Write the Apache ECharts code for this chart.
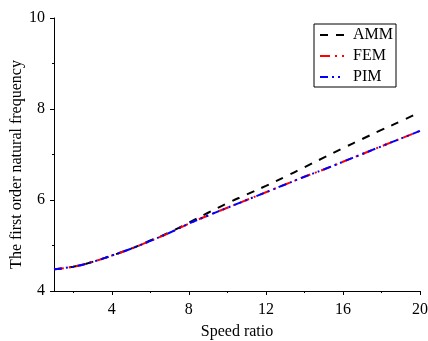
<!DOCTYPE html>
<html>
<head>
<meta charset="utf-8">
<script src="https://cdn.jsdelivr.net/npm/echarts@6/dist/echarts.min.js"></script>
<style>html,body{margin:0;padding:0;background:#fff}#c{width:428px;height:341px}</style>
</head>
<body>
<div id="c"></div>
<script>
var speedRatio = [1,2,3,4,5,6,7,8,9,10,11,12,13,14,15,16,17,18,19,20];
var amm = [4.48,4.535,4.64,4.78,4.93,5.11,5.29,5.50,5.72,5.93,6.12,6.31,6.51,6.72,6.93,7.14,7.34,7.54,7.73,7.93];
var fem = [4.48,4.535,4.64,4.78,4.93,5.10,5.28,5.48,5.66,5.83,6.00,6.17,6.34,6.51,6.67,6.84,7.01,7.18,7.35,7.52];
var pim = [4.48,4.535,4.64,4.78,4.93,5.10,5.28,5.48,5.66,5.83,6.00,6.17,6.34,6.51,6.67,6.84,7.01,7.18,7.35,7.52];
var xMajorTicks = [4,8,12,16,20];
var xMinorTicks = [2,6,10,14,18];

function pairs(xs, ys){ return xs.map(function(x,i){return [x, ys[i]];}); }
var FONT = '"Liberation Serif","Times New Roman",serif';
var FS = 16;
var chart = echarts.init(document.getElementById('c'));
chart.setOption({
  animation: false,
  textStyle: {fontFamily: FONT, color: '#000'},
  grid: {left: 54, right: 8, top: 18, bottom: 50, containLabel: false, outerBoundsMode: 'none'},
  legend: {
    orient: 'vertical', left: 314, top: 24,
    padding: [3, 3, 2, 5], itemGap: 5, itemWidth: 24, itemHeight: 15,
    borderColor: '#000', borderWidth: 1,
    itemStyle: {opacity: 0},
    textStyle: {fontFamily: FONT, fontSize: FS, color: '#000', padding: [0,0,0,4]},
    data: ['AMM','FEM','PIM']
  },
  xAxis: [{
    type: 'value', min: 1, max: 20,
    name: 'Speed ratio', nameLocation: 'middle', nameGap: 33, nameMoveOverlap: false,
    nameTextStyle: {fontFamily: FONT, fontSize: FS, color: '#000'},
    axisLine: {lineStyle: {color: '#000', width: 1}},
    axisTick: {show: true, customValues: xMajorTicks, length: 4, lineStyle: {color: '#000'}},
    axisLabel: {customValues: xMajorTicks, fontFamily: FONT, fontSize: FS, color: '#000', margin: 11},
    splitLine: {show: false}
  },{
    type: 'value', min: 1, max: 20, position: 'bottom',
    axisLine: {show: false},
    axisTick: {show: true, customValues: xMinorTicks, length: 2, lineStyle: {color: '#000'}},
    axisLabel: {show: false},
    splitLine: {show: false}
  }],
  yAxis: {
    type: 'value', min: 4, max: 10, interval: 2,
    name: 'The first order natural frequency', nameLocation: 'middle', nameGap: 29, nameMoveOverlap: false,
    nameTextStyle: {fontFamily: FONT, fontSize: FS, color: '#000', padding: [0, 20, 0, 0]},
    axisLine: {show: true, lineStyle: {color: '#000', width: 1}},
    axisTick: {show: true, length: 4, lineStyle: {color: '#000'}},
    minorTick: {show: true, splitNumber: 2, length: 2, lineStyle: {color: '#000'}},
    axisLabel: {fontFamily: FONT, fontSize: FS, color: '#000', margin: 9},
    splitLine: {show: false}
  },
  series: [
    {name: 'AMM', type: 'line', data: pairs(speedRatio, amm), symbol: 'none', smooth: true,
     itemStyle: {color: '#000'},
     lineStyle: {color: '#000', width: 2, type: [8, 8]}},
    {name: 'FEM', type: 'line', data: pairs(speedRatio, fem), symbol: 'none', smooth: true,
     itemStyle: {color: '#ff0000'},
     lineStyle: {color: '#ff0000', width: 2, type: [10, 5, 2, 5]}},
    {name: 'PIM', type: 'line', data: pairs(speedRatio, pim), symbol: 'none', smooth: true,
     itemStyle: {color: '#0000ff'},
     lineStyle: {color: '#0000ff', width: 2, type: [8, 4, 2, 4, 2, 4]}}
  ]
});
</script>
</body>
</html>
